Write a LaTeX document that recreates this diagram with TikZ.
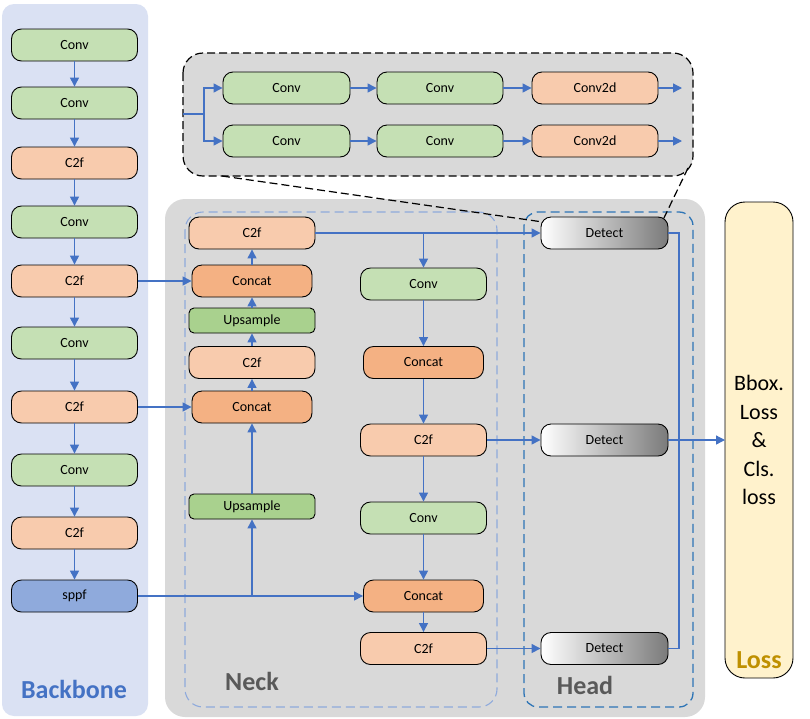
\documentclass[tikz,border=0pt]{standalone}
\usepackage{fontspec}
\setmainfont{Carlito}
\usetikzlibrary{arrows.meta,calc}
\definecolor{convg}{HTML}{C5E0B4}
\definecolor{c2fc}{HTML}{F8CBAD}
\definecolor{concatc}{HTML}{F4B183}
\definecolor{upsc}{HTML}{A9D18E}
\definecolor{sppfc}{HTML}{8FAADC}
\definecolor{bbbg}{HTML}{DAE1F3}
\definecolor{neckbg}{HTML}{D9D9D9}
\definecolor{lossbg}{HTML}{FFF2CC}
\definecolor{lineblue}{HTML}{4472C4}
\definecolor{neckdash}{HTML}{8FAADC}
\definecolor{headdash}{HTML}{2E75B6}
\definecolor{labgray}{HTML}{595959}
\definecolor{lossgold}{HTML}{BF9000}
\tikzset{
  blk/.style={draw=black, line width=0.9pt, rounded corners=10pt, minimum height=32pt, minimum width=126pt, inner sep=0pt, font=\fontsize{14}{16}\selectfont},
  convbox/.style={blk, fill=convg},
  c2fbox/.style={blk, fill=c2fc},
  concatbox/.style={blk, fill=concatc, minimum width=120pt},
  upsbox/.style={blk, fill=upsc, minimum height=25pt, rounded corners=5pt},
  sppfbox/.style={blk, fill=sppfc},
  detbox/.style={blk, left color=white, right color=black!52, minimum width=127pt},
  conn/.style={draw=lineblue, line width=1.3pt},
  arr/.style={conn, -{Triangle[length=9pt,width=9pt]}},
  biglab/.style={font=\fontsize{26}{30}\selectfont\bfseries},
}
\begin{document}
\begin{tikzpicture}[x=1pt,y=-1pt]
\useasboundingbox (0,0) rectangle (810,718);
% backgrounds
\fill[bbbg, rounded corners=12pt] (2,4) rectangle (148,716);
\fill[neckbg, rounded corners=20pt] (165,199) rectangle (705,717);
\draw[black, line width=1.2pt, dash pattern=on 8pt off 4pt, fill=neckbg, rounded corners=20pt] (183,53) rectangle (693,176);
\draw[neckdash, line width=1.1pt, dash pattern=on 9pt off 5pt, rounded corners=18pt] (185,212) rectangle (497,707);
\draw[headdash, line width=1.3pt, dash pattern=on 9pt off 5pt, rounded corners=14pt] (524,212) rectangle (693,707);
\draw[black, line width=0.9pt, fill=lossbg, rounded corners=20pt] (725,202) rectangle (793,678);

% labels
\node[biglab, text=lineblue] (lbb) at (74,689) {Backbone};
\node[biglab, text=labgray] (lneck) at (252,681) {Neck};
\node[biglab, text=labgray] (lhead) at (585,685) {Head};
\node[biglab, text=lossgold] (lloss) at (759,660) {Loss};
\node[align=center, font=\fontsize{22}{28.5}\selectfont] (loss) at (759,440) {Bbox.\\Loss\\\&\\Cls.\\loss};
\coordinate (losswest) at (725,440);

% backbone
\node[convbox] (b1) at (74.5,45) {Conv};
\node[convbox] (b2) at (74.5,103) {Conv};
\node[c2fbox] (b3) at (74.5,163) {C2f};
\node[convbox] (b4) at (74.5,222) {Conv};
\node[c2fbox] (b5) at (74.5,281) {C2f};
\node[convbox] (b6) at (74.5,343) {Conv};
\node[c2fbox] (b7) at (74.5,407) {C2f};
\node[convbox] (b8) at (74.5,470) {Conv};
\node[c2fbox] (b9) at (74.5,533) {C2f};
\node[sppfbox] (b10) at (74.5,596) {sppf};

% neck left column
\node[c2fbox] (n1) at (252,233) {C2f};
\node[concatbox] (n2) at (252,281) {Concat};
\node[upsbox] (n3) at (252,320.5) {Upsample};
\node[c2fbox] (n4) at (252,362.5) {C2f};
\node[concatbox] (n5) at (252,407) {Concat};
\node[upsbox] (n6) at (252,506.5) {Upsample};

% neck middle column
\node[convbox] (m1) at (423.5,284) {Conv};
\node[concatbox] (m2) at (423.5,362.5) {Concat};
\node[c2fbox] (m3) at (423.5,440) {C2f};
\node[convbox] (m4) at (423.5,518) {Conv};
\node[concatbox] (m5) at (423.5,596) {Concat};
\node[c2fbox] (m6) at (423.5,648.5) {C2f};

% head
\node[detbox] (d1) at (604.5,233) {Detect};
\node[detbox] (d2) at (604.5,440) {Detect};
\node[detbox] (d3) at (604.5,648.5) {Detect};

% top detail panel
\node[convbox, minimum width=127pt] (t1) at (286.5,88) {Conv};
\node[convbox] (t2) at (440,88) {Conv};
\node[c2fbox] (t3) at (595,88) {Conv2d};
\node[convbox, minimum width=127pt] (t4) at (286.5,141) {Conv};
\node[convbox] (t5) at (440,141) {Conv};
\node[c2fbox] (t6) at (595,141) {Conv2d};
\coordinate (tin) at (183,114);
\coordinate (tj) at (204,114);
\coordinate (to1) at (682,88);
\coordinate (to2) at (682,141);

% callout dashed lines
\coordinate (cl1) at (222,176);
\coordinate (cl2) at (543,222);
\coordinate (cr1) at (688,168);
\coordinate (cr2) at (662,222);
\draw[black, line width=1.2pt, dash pattern=on 8pt off 4pt] (cl1) -- (cl2);
\draw[black, line width=1.2pt, dash pattern=on 8pt off 4pt] (cr1) -- (cr2);

% backbone connectors
\draw[arr] (b1) -- (b2);
\draw[arr] (b2) -- (b3);
\draw[arr] (b3) -- (b4);
\draw[arr] (b4) -- (b5);
\draw[arr] (b5) -- (b6);
\draw[arr] (b6) -- (b7);
\draw[arr] (b7) -- (b8);
\draw[arr] (b8) -- (b9);
\draw[arr] (b9) -- (b10);

% backbone to neck
\draw[arr] (b5) -- (n2);
\draw[arr] (b7) -- (n5);
\draw[arr] (b10) -- (m5);
\coordinate (j1) at (n6 |- b10);
\draw[arr] (j1) -- (n6);

% neck left column
\draw[arr] (n6) -- (n5);
\draw[arr] (n5) -- (n4);
\draw[arr] (n4) -- (n3);
\draw[arr] (n3) -- (n2);
\draw[arr] (n2) -- (n1);

% neck to head and middle column
\draw[arr] (n1) -- (d1);
\coordinate (j2) at (m1 |- n1);
\draw[arr] (j2) -- (m1);
\draw[arr] (m1) -- (m2);
\draw[arr] (m2) -- (m3);
\draw[arr] (m3) -- (m4);
\draw[arr] (m4) -- (m5);
\draw[arr] (m5) -- (m6);
\draw[arr] (m3) -- (d2);
\draw[arr] (m6) -- (d3);

% head outputs
\coordinate (vx) at (679,440);
\draw[conn] (d1.east) -| (vx) |- (d3.east);
\draw[arr] (d2) -- (losswest);

% top panel connectors
\draw[conn] (tin) -- (tj);
\draw[arr] (tj) |- (t1);
\draw[arr] (tj) |- (t4);
\draw[arr] (t1) -- (t2);
\draw[arr] (t2) -- (t3);
\draw[arr] (t3) -- (to1);
\draw[arr] (t4) -- (t5);
\draw[arr] (t5) -- (t6);
\draw[arr] (t6) -- (to2);
\end{tikzpicture}
\end{document}
